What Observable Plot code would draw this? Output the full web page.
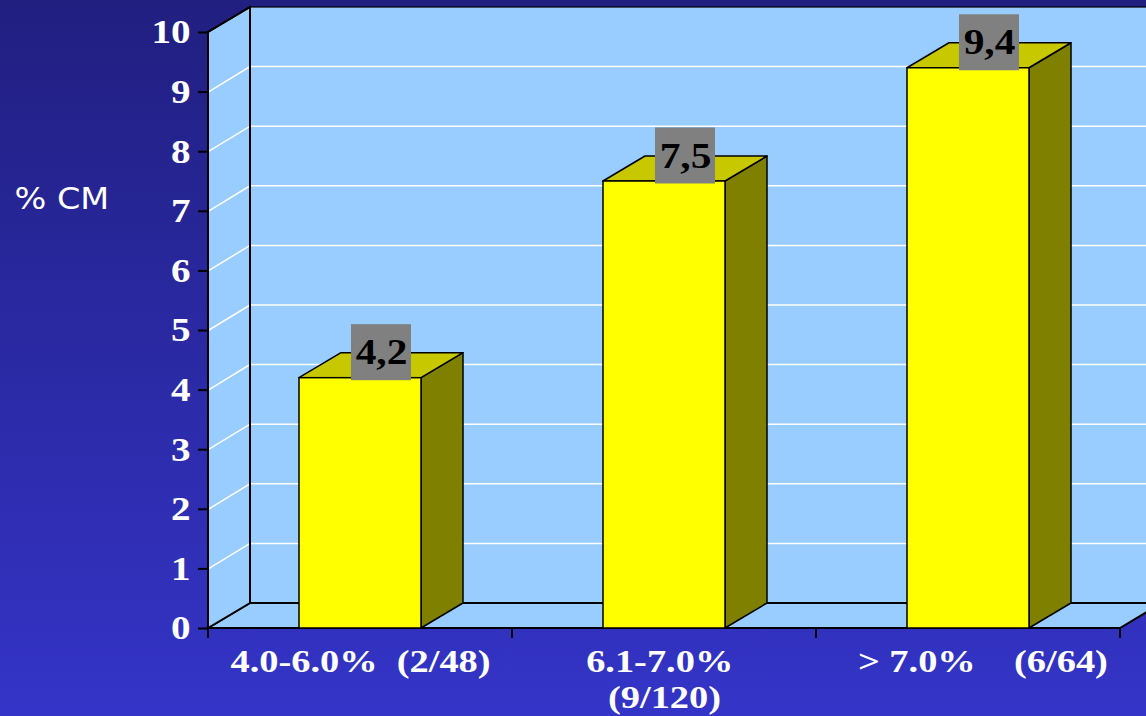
<!DOCTYPE html>
<html>
<head>
<meta charset="utf-8">
<script src="https://cdn.jsdelivr.net/npm/d3@7"></script>
<script src="https://cdn.jsdelivr.net/npm/@observablehq/plot@0.6"></script>
<style>
  html, body { margin: 0; padding: 0; overflow: hidden; }
  body { width: 1146px; height: 716px; background: linear-gradient(#211F80, #3434C8); }
</style>
</head>
<body>
<div id="chart"></div>
<script>
// Data
const categories = ["4.0-6.0%", "6.1-7.0%", "> 7.0%"];
const counts = ["(2/48)", "(9/120)", "(6/64)"];
const values = [4.2, 7.5, 9.4];
const yTicks = [0, 1, 2, 3, 4, 5, 6, 7, 8, 9, 10];
const yTitle = "% CM";
// How each category label is laid out under its bar
const xTickLabels = [
  "4.0-6.0%\u00a0\u00a0(2/48)",
  "6.1-7.0%\u00a0\n(9/120)",
  "\u00a0\u00a0\u00a0> 7.0%\u00a0\u00a0\u00a0\u00a0(6/64)"
];

const rows = categories.map((c, i) => ({category: c, count: counts[i], value: values[i], tick: xTickLabels[i]}));
const tickLabelOf = new Map(rows.map(d => [d.category, d.tick]));

// Look of the pseudo-3D chart
const DX = 42, DY = -25;           // depth offset of the back wall
const BAR_INSET = 91;              // gap between bar and band edge
const WALL = "#99CCFF";
const FRONT = "#FFFF00", TOP = "#C8C800", SIDE = "#808000";
const SERIF = "Liberation Serif, Times New Roman, serif";
const STRETCH = 1.15;

// Back wall, left wall, floor and the gridlines drawn on them
function room(index, {y}, values, dims) {
  const x0 = dims.marginLeft, x1 = dims.width - dims.marginRight;
  const yb = y(0), yt = y(yTicks[yTicks.length - 1]);
  const g = d3.create("svg:g");
  g.append("rect")
    .attr("x", x0 + DX).attr("y", yt + DY)
    .attr("width", x1 - x0).attr("height", yb - yt)
    .attr("fill", WALL).attr("stroke", "black").attr("stroke-width", 1.2);
  g.append("path")
    .attr("d", `M${x0},${yb}L${x1},${yb}L${x1 + DX},${yb + DY}L${x0 + DX},${yb + DY}Z`)
    .attr("fill", WALL).attr("stroke", "black").attr("stroke-width", 2);
  g.append("path")
    .attr("d", `M${x0},${yb}V${yt}L${x0 + DX},${yt + DY}V${yb + DY}Z`)
    .attr("fill", WALL).attr("stroke", "black").attr("stroke-width", 2);
  for (const v of yTicks.slice(1, -1)) {
    const yv = y(v);
    g.append("path")
      .attr("d", `M${x0 + 1},${yv}L${x0 + DX},${yv + DY}H${x1 + DX}`)
      .attr("fill", "none").attr("stroke", "white").attr("stroke-width", 1.5);
  }
  // redraw the wall edges over the gridlines
  g.append("path")
    .attr("d", `M${x0 + DX},${yt + DY}V${yb + DY}H${x1 + DX}M${x0},${yb}H${x1}M${x0},${yb}V${yt}L${x0 + DX},${yt + DY}`)
    .attr("fill", "none").attr("stroke", "black").attr("stroke-width", 2);
  return g.node();
}

// Top and right-hand faces of each bar
function barDepth(index, {x, y}) {
  const bw = x.bandwidth();
  const g = d3.create("svg:g");
  for (const d of rows) {
    const l = x(d.category) + BAR_INSET, r = x(d.category) + bw - BAR_INSET;
    const yv = y(d.value), y0 = y(0);
    g.append("path")
      .attr("d", `M${r},${yv}L${r + DX},${yv + DY}V${y0 + DY}L${r},${y0}Z`)
      .attr("fill", SIDE).attr("stroke", "black").attr("stroke-width", 1.5).attr("stroke-linejoin", "round");
    g.append("path")
      .attr("d", `M${l},${yv}L${l + DX},${yv + DY}H${r + DX}L${r},${yv}Z`)
      .attr("fill", TOP).attr("stroke", "black").attr("stroke-width", 1.5).attr("stroke-linejoin", "round");
  }
  return g.node();
}

// Category ticks at the band boundaries
function bandTicks(index, {x, y}) {
  const bw = x.bandwidth();
  const g = d3.create("svg:g");
  const edges = categories.map(c => x(c)).concat([x(categories[categories.length - 1]) + bw]);
  for (const e of edges) {
    g.append("line").attr("x1", e).attr("x2", e).attr("y1", y(0)).attr("y2", y(0) + 10)
      .attr("stroke", "black").attr("stroke-width", 2);
  }
  return g.node();
}

// Grey boxes behind the value labels
function labelBoxes(index, {x, y}) {
  const bw = x.bandwidth();
  const g = d3.create("svg:g");
  for (const d of rows) {
    const cx = x(d.category) + bw / 2 + DX / 2;
    const cy = y(d.value) + DY - 0.5;
    g.append("rect").attr("x", cx - 30).attr("y", cy - 28).attr("width", 60).attr("height", 56)
      .attr("fill", "#808080");
  }
  return g.node();
}

const plot = Plot.plot({
  width: 1146,
  height: 716,
  marginLeft: 208,
  marginRight: 26,
  marginTop: 32,
  marginBottom: 88,
  style: {background: "transparent", color: "white", overflow: "visible"},
  x: {type: "band", domain: categories, padding: 0, axis: null},
  y: {domain: [0, 10], axis: null},
  marks: [
    room,
    barDepth,
    Plot.barY(rows, {x: "category", y: "value", fill: FRONT, stroke: "black", strokeWidth: 1.5,
      insetLeft: BAR_INSET, insetRight: BAR_INSET}),
    Plot.axisY({ticks: yTicks, tickSize: 10, tickPadding: 8, stroke: "black", strokeWidth: 2,
      fontSize: 34, fontWeight: "bold", fontFamily: SERIF, label: null}),
    Plot.axisX({tickSize: 0, tickPadding: 18, tickFormat: d => tickLabelOf.get(d),
      fontSize: 32, fontWeight: "bold", fontFamily: SERIF, lineHeight: 1.12, label: null}),
    bandTicks,
    labelBoxes,
    Plot.text(rows, {x: "category", y: "value", text: d => d.value.toFixed(1).replace(".", ","),
      dx: DX / 2, dy: DY - 0.5, fill: "black", fontSize: 36, fontWeight: "bold", fontFamily: SERIF}),
    Plot.text([yTitle], {frameAnchor: "left", y: 7.2, dx: -194, text: d => d, textAnchor: "start",
      fill: "white", fontSize: 31, fontFamily: "DejaVu Sans, Verdana, sans-serif"})
  ]
});

// Widen the lettering a little, keeping each label anchored in place
for (const t of plot.querySelectorAll("text")) {
  const tx = +t.getAttribute("x") || 0, ty = +t.getAttribute("y") || 0;
  const s = t.textContent.includes("CM") ? 1.08 : (t.textContent.includes("(") ? 1.2 : STRETCH);
  const prev = t.getAttribute("transform") || "";
  t.setAttribute("transform", `${prev} translate(${tx},${ty}) scale(${s},1) translate(${-tx},${-ty})`.trim());
}

document.getElementById("chart").appendChild(plot);
</script>
</body>
</html>
